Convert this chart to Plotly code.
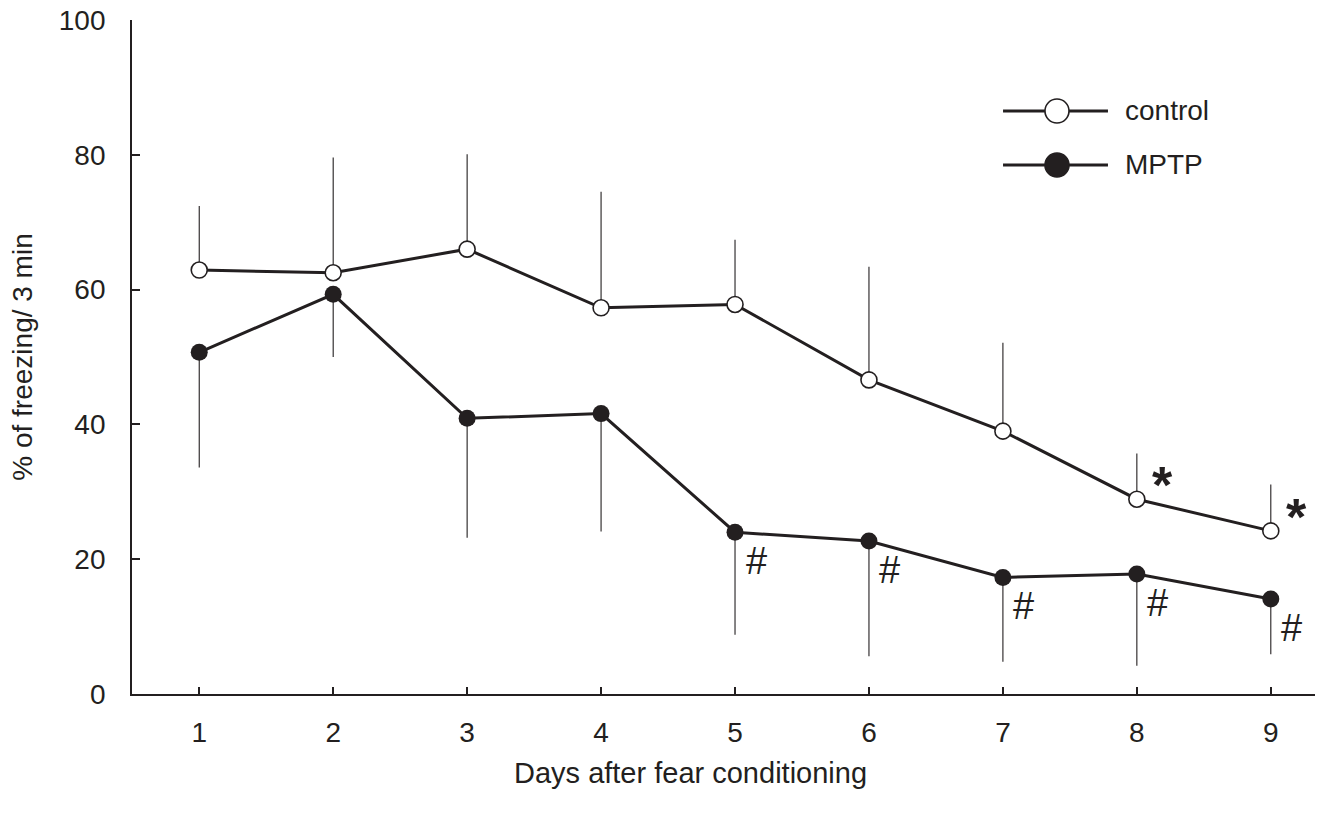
import plotly.graph_objects as go

# Freezing behaviour (% of 3 min) on each day after fear conditioning
days = [1, 2, 3, 4, 5, 6, 7, 8, 9]
control_mean = [62.9, 62.5, 66.0, 57.3, 57.8, 46.6, 39.0, 28.9, 24.2]
control_sem = [9.5, 17.1, 14.1, 17.2, 9.6, 16.8, 13.1, 6.8, 6.9]
mptp_mean = [50.7, 59.3, 40.9, 41.6, 24.0, 22.7, 17.3, 17.8, 14.1]
mptp_sem = [17.1, 9.3, 17.7, 17.5, 15.2, 17.1, 12.5, 13.6, 8.2]

# significance marks: control vs MPTP (*), MPTP vs day 1 (#)
star_days = [8, 9]
hash_days = [5, 6, 7, 8, 9]

y_ticks = [0, 20, 40, 60, 80, 100]

INK = "#231f20"
FONT = "Liberation Sans, Arial, sans-serif"

fig = go.Figure()

fig.add_trace(go.Scatter(
    x=days, y=control_mean, mode="lines+markers", name="control",
    line=dict(color=INK, width=3),
    marker=dict(symbol="circle", size=16, color="white",
                line=dict(color=INK, width=1.6)),
    error_y=dict(type="data", symmetric=False, array=control_sem,
                 arrayminus=[0] * len(days), color=INK, thickness=1.1, width=0),
    showlegend=False,
))

fig.add_trace(go.Scatter(
    x=days, y=mptp_mean, mode="lines+markers", name="MPTP",
    line=dict(color=INK, width=3),
    marker=dict(symbol="circle", size=17, color=INK,
                line=dict(color=INK, width=0)),
    error_y=dict(type="data", symmetric=False, array=[0] * len(days),
                 arrayminus=mptp_sem, color=INK, thickness=1.1, width=0),
    showlegend=False,
))

annotations = []
for d in star_days:
    i = days.index(d)
    annotations.append(dict(
        x=d, y=control_mean[i], xref="x", yref="y", text="<b>*</b>",
        showarrow=False,
        font=dict(family=FONT, size=52, color=INK),
        xshift=26, yshift=14,
    ))
for d in hash_days:
    i = days.index(d)
    annotations.append(dict(
        x=d, y=mptp_mean[i], xref="x", yref="y", text="#", showarrow=False,
        font=dict(family=FONT, size=38, color=INK),
        xshift=21, yshift=-29,
    ))

# hand-drawn legend: long line segment with a centred marker, label to the right
legend_items = [("control", 0.865, "white"), ("MPTP", 0.7849, INK)]
shapes = []
for label, ly, fill in legend_items:
    shapes.append(dict(type="line", xref="paper", yref="paper",
                       x0=0.7363, x1=0.8250, y0=ly, y1=ly,
                       line=dict(color=INK, width=3)))
    shapes.append(dict(type="circle", xref="paper", yref="paper",
                       xsizemode="pixel", ysizemode="pixel",
                       xanchor=0.7819, yanchor=ly,
                       x0=-12, x1=12, y0=-12, y1=12,
                       fillcolor=fill, line=dict(color=INK, width=1.6)))
    annotations.append(dict(
        x=0.8377, y=ly, xref="paper", yref="paper", text=label,
        showarrow=False, xanchor="left", yanchor="middle",
        font=dict(family=FONT, size=28, color=INK),
    ))

# x-axis title
annotations.append(dict(
    x=0.4717, y=-0.1172, xref="paper", yref="paper",
    text="Days after fear conditioning", showarrow=False,
    xanchor="center", yanchor="middle",
    font=dict(family=FONT, size=29, color=INK),
))

fig.update_layout(
    width=1325, height=816,
    margin=dict(l=132, r=10, t=20, b=122),
    paper_bgcolor="white", plot_bgcolor="white",
    font=dict(family=FONT, size=28, color=INK),
    shapes=shapes,
    annotations=annotations,
    xaxis=dict(
        range=[0.498, 9.33], tickmode="array", tickvals=days,
        ticktext=[str(d) for d in days],
        ticks="inside", ticklen=7, tickwidth=1.5, tickcolor=INK,
        showline=True, linecolor=INK, linewidth=1.8,
        showgrid=False, zeroline=False,
        ticklabelstandoff=12,
        automargin=False,
    ),
    yaxis=dict(
        range=[0, 100], tickmode="array", tickvals=y_ticks,
        ticks="inside", ticklen=8, tickwidth=1.5, tickcolor=INK,
        showline=True, linecolor=INK, linewidth=1.8,
        showgrid=False, zeroline=False,
        ticklabelstandoff=19,
        title=dict(text="% of freezing/ 3 min", standoff=18,
                   font=dict(family=FONT, size=28, color=INK)),
        automargin=False,
    ),
)

fig.write_html("out.html")
